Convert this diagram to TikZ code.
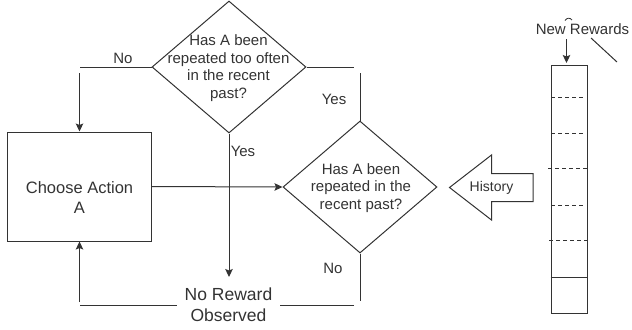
\documentclass[tikz,border=0pt]{standalone}
\usepackage{fontspec}
\setmainfont{Liberation Sans}
\usetikzlibrary{shapes.geometric,arrows.meta}
\definecolor{ink}{HTML}{333333}
\definecolor{txtc}{HTML}{333333}
\begin{document}
\begin{tikzpicture}[x=1bp,y=-1bp,
  line/.style={draw=ink,line width=1bp},
  arr/.style={line,-{Stealth[length=8bp,width=7.5bp,inset=1.5bp]}},
  diam/.style={diamond,draw=ink,line width=1bp,minimum width=154bp,minimum height=132bp,inner sep=0pt},
  lbl/.style={text=txtc,font=\fontsize{15bp}{17.7bp}\selectfont,inner sep=0pt,align=center},
  biglbl/.style={text=txtc,font=\fontsize{16.5bp}{20bp}\selectfont,inner sep=0pt,align=center},
  hugelbl/.style={text=txtc,font=\fontsize{17.5bp}{20.7bp}\selectfont,inner ysep=0pt,inner xsep=8bp,align=center},
  smalllbl/.style={text=txtc,font=\fontsize{14bp}{16bp}\selectfont,inner sep=0pt},
  cell/.style={draw=ink,line width=0.9bp,dash pattern=on 4bp off 3bp}
]
\useasboundingbox (0,0) rectangle (632,329);

% decisions
\node[diam] (d1) at (229,67) {};
\node[lbl] (d1t) at (228.5,68) {Has A been\\repeated too often\\in the recent\\past?};
\node[diam] (d2) at (360,187) {};
\node[lbl] (d2t) at (361,188) {Has A been\\repeated in the\\recent past?};

% action box
\node[draw=ink,line width=1bp,minimum width=143bp,minimum height=109bp,inner sep=0pt] (box) at (79.5,186.5) {};
\node[biglbl] (boxt) at (79.5,198) {Choose Action\\A};

% no reward
\node[hugelbl] (nr) at (228.5,305) {No Reward\\Observed};

% connectors
\coordinate (c1) at (79.5,67);
\draw[line] (d1.west) -- (c1);
\draw[arr] ([yshift=-6bp]c1) -- (box.north);
\node[lbl] (no1) at (123,58) {No};

\coordinate (c2) at (360,67);
\draw[line] (d1.east) -- ([xshift=-6bp]c2);
\draw[line] ([yshift=-6bp]c2) -- (d2.north);
\node[lbl] (yes1) at (334,99) {Yes};

\coordinate (c5) at (229,277);
\draw[arr] (d1.south) -- (c5);
\node[lbl] (yes2) at (243,151) {Yes};

\draw[arr] (box.east) -- (d2.west);

\coordinate (c3) at (360,305);
\draw[line] (d2.south) -- ([yshift=4bp]c3);
\draw[line] ([xshift=-6bp]c3) -- (nr.east);
\node[lbl] (no2) at (333,268) {No};

\coordinate (c4) at (79.5,305);
\draw[line] (nr.west) -- (c4);
\draw[arr] ([yshift=3bp]c4) -- (box.south);

% history arrow
\draw[line,fill=white] (533,173.5) -- (491.5,173.5) -- (491.5,155) -- (449.5,187.5) -- (491.5,220) -- (491.5,201.5) -- (533,201.5) -- cycle;
\node[smalllbl] (hist) at (491.5,187.5) {History};

% stack
\node[draw=ink,line width=1bp,minimum width=36bp,minimum height=248bp,inner sep=0pt] (stack) at (569,189) {};
\draw[cell] (551,97.5) -- (585,97.5);
\draw[cell] (551,133) -- (585,133);
\draw[cell] (548,168.5) -- (587,168.5);
\draw[cell] (551,205) -- (585,205);
\draw[cell] (549,240.5) -- (589,240.5);
\draw[line] (stack.west |- 0,277) -- (stack.east |- 0,277);

% new rewards
\node[lbl] (nrw) at (582.5,29) {New Rewards};
\coordinate (c6) at (566.5,39);
\coordinate (c7) at (566.5,63);
\draw[arr] (c6) -- (c7);
\coordinate (c8) at (591,38);
\coordinate (c9) at (617,62);
\draw[line] (c8) -- (c9);
\draw[draw=ink,line width=0.8bp] (565,20.5) .. controls (567,17.5) and (570,17.5) .. (572,20);
\end{tikzpicture}
\end{document}
